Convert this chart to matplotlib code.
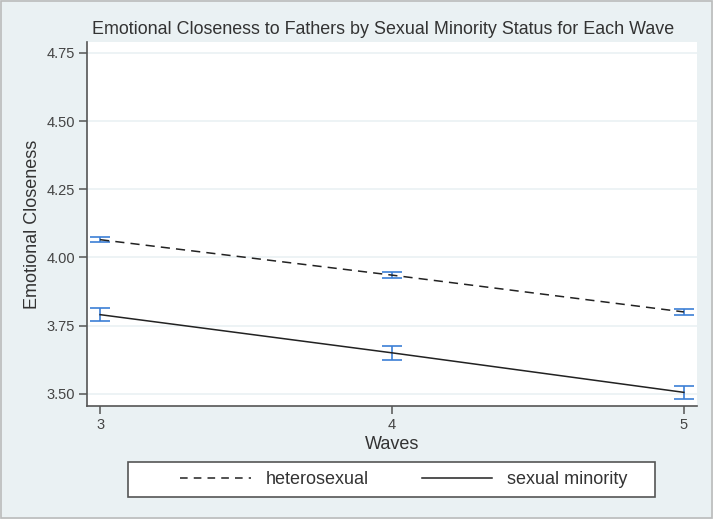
import matplotlib
matplotlib.use("Agg")
import matplotlib.pyplot as plt
from matplotlib.patches import Rectangle
from matplotlib.lines import Line2D

waves = [3, 4, 5]
hetero_mean = [4.065, 3.935, 3.800]
hetero_lo = [4.055, 3.925, 3.790]
hetero_hi = [4.075, 3.945, 3.810]
minority_mean = [3.790, 3.650, 3.505]
minority_lo = [3.768, 3.625, 3.480]
minority_hi = [3.815, 3.675, 3.530]
yticks = [3.50, 3.75, 4.00, 4.25, 4.50, 4.75]
ytick_labels = ["3.50", "3.75", "4.00", "4.25", "4.50", "4.75"]

plt.rcParams['font.family'] = ['Liberation Sans', 'DejaVu Sans']
bg = '#EAF1F3'
fig = plt.figure(figsize=(7.13, 5.19), dpi=100, facecolor=bg)
W, H = 713, 519
ax = fig.add_axes([87 / W, 1 - 406 / H, (697 - 87) / W, (406 - 42) / H])
ax.set_facecolor('white')

ci_color = '#3C7FD6'
for m, lo, hi in [(hetero_mean, hetero_lo, hetero_hi), (minority_mean, minority_lo, minority_hi)]:
    yerr = [[a - b for a, b in zip(m, lo)], [b - a for a, b in zip(m, hi)]]
    ax.errorbar(waves, m, yerr=yerr, fmt='none', ecolor=ci_color, elinewidth=1.2,
                capsize=7, capthick=1.2, zorder=3)

ax.plot(waves, hetero_mean, color='#222222', lw=1.1, dashes=(6, 4), zorder=4)
ax.plot(waves, minority_mean, color='#222222', lw=1.1, zorder=4)

ax.set_xlim(2.955, 5.045)
ax.set_ylim(3.455, 4.79)
ax.set_xticks(waves)
ax.set_xticklabels([str(w) for w in waves], fontsize=10.5, color='#444444')
ax.set_yticks(yticks)
ax.set_yticklabels(ytick_labels, fontsize=10.5, color='#444444')
ax.yaxis.grid(True, color='#EAF1F3', lw=1.2)
ax.set_axisbelow(True)
for s in ['top', 'right']:
    ax.spines[s].set_visible(False)
for s in ['left', 'bottom']:
    ax.spines[s].set_color('#555555')
    ax.spines[s].set_linewidth(1.2)
ax.tick_params(direction='out', length=6, width=1.1, color='#555555', pad=2.5)

ax.set_ylabel('Emotional Closeness', fontsize=13, color='#333333', labelpad=4)
ax.set_xlabel('Waves', fontsize=13, color='#333333', labelpad=3)
fig.text(383 / W, 1 - 30 / H, 'Emotional Closeness to Fathers by Sexual Minority Status for Each Wave',
         ha='center', va='center', fontsize=12.9, color='#333333')

fig.patches.append(Rectangle((128 / W, 1 - 497 / H), (655 - 128) / W, (497 - 462) / H,
                             transform=fig.transFigure, facecolor='white',
                             edgecolor='#555555', lw=1.2, zorder=1))
handles = [Line2D([0], [0], color='#222222', lw=1.1, dashes=(5, 4)),
           Line2D([0], [0], color='#222222', lw=1.1)]
leg = fig.legend(handles, ['heterosexual', 'sexual minority'], loc='center',
                 bbox_to_anchor=(404 / W, 1 - 480 / H), ncol=2, frameon=False,
                 fontsize=13, handlelength=3.9, columnspacing=2.9, handletextpad=0.85,
                 labelcolor='#333333')
leg.set_zorder(2)

fig.patches.append(Rectangle((0.002, 0.002), 0.996, 0.996, transform=fig.transFigure,
                             fill=False, edgecolor='#BBBBBB', lw=1.2))

fig.savefig('out.png', dpi=100, facecolor=bg)
